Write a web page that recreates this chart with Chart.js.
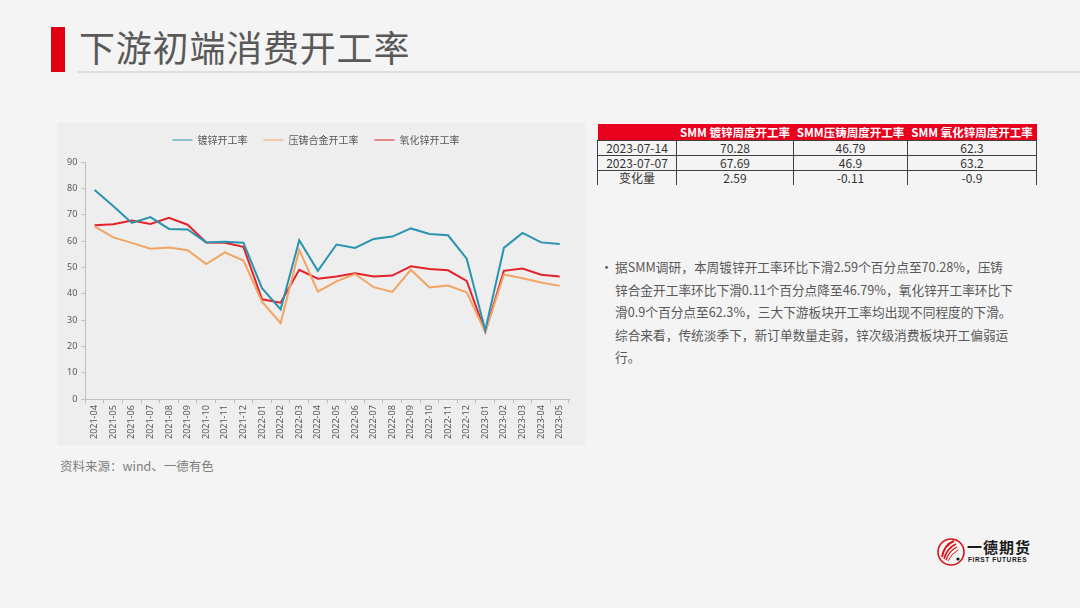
<!DOCTYPE html>
<html>
<head>
<meta charset="utf-8">
<script src="https://cdn.jsdelivr.net/npm/chart.js@4/dist/chart.umd.min.js"></script>
<style>
    html, body { margin: 0; padding: 0; }
    body {
        width: 1080px; height: 608px; position: relative; overflow: hidden;
        background: #f4f4f4;
        font-family: "Noto Sans CJK SC", "Noto Sans", sans-serif;
        color: #595959;
    }
    .title-bar { position: absolute; left: 51px; top: 27px; width: 14px; height: 45px; background: #e00012; }
    .title { position: absolute; left: 79px; top: 23px; font-size: 36px; line-height: 46px; color: #595959; letter-spacing: 0.8px; }
    .title-line { position: absolute; left: 78px; top: 71px; width: 1002px; height: 2px; background: #dedede; }
    .panel { position: absolute; left: 57px; top: 123px; width: 528px; height: 322px; background: #eeeeee; }
    .source { position: absolute; left: 60px; top: 456px; font-size: 12.5px; color: #7f7f7f; }
    table.t {
        position: absolute; left: 597px; top: 124px; border-collapse: collapse;
        font-size: 12px; color: #333; table-layout: fixed;
    }
    table.t th {
        background: #e8001c; color: #fff; font-weight: bold; height: 16px; padding: 0;
        font-size: 11.5px; white-space: nowrap;
    }
    table.t td { height: 14px; padding: 0; text-align: center; line-height: 14px; border: 1px solid #404040; }
    table.t tr:last-child td { border-bottom: none; }
    .text { position: absolute; left: 615px; top: 256px; font-size: 12.7px; line-height: 22.5px; color: #595959; white-space: nowrap; }
    .bullet { position: absolute; left: 600px; top: 256px; font-size: 13px; line-height: 22.5px; color: #595959; }
    .logo { position: absolute; left: 936px; top: 537px; }
    .logo-cn { position: absolute; left: 967px; top: 536px; font-size: 15px; font-weight: bold; color: #1a1a1a; letter-spacing: 1px; white-space: nowrap; }
    .logo-en { position: absolute; left: 968px; top: 556px; font-size: 6.5px; font-weight: bold; color: #1a1a1a; letter-spacing: 0.6px; white-space: nowrap; font-family: "Liberation Sans", sans-serif; }
</style>
</head>
<body>
<div class="title-bar"></div>
<div class="title">下游初端消费开工率</div>
<div class="title-line"></div>

<div class="panel"><canvas id="chart-rate" width="528" height="322"></canvas></div>
<div class="source">资料来源：wind、一德有色</div>

<table class="t">
    <colgroup><col style="width:79px"><col style="width:117px"><col style="width:114px"><col style="width:129px"></colgroup>
    <tr><th></th><th>SMM 镀锌周度开工率</th><th>SMM压铸周度开工率</th><th>SMM 氧化锌周度开工率</th></tr>
    <tr><td>2023-07-14</td><td>70.28</td><td>46.79</td><td>62.3</td></tr>
    <tr><td>2023-07-07</td><td>67.69</td><td>46.9</td><td>63.2</td></tr>
    <tr><td>变化量</td><td>2.59</td><td>-0.11</td><td>-0.9</td></tr>
</table>

<div class="bullet">•</div>
<div class="text">据SMM调研，本周镀锌开工率环比下滑2.59个百分点至70.28%，压铸<br>锌合金开工率环比下滑0.11个百分点降至46.79%，氧化锌开工率环比下<br>滑0.9个百分点至62.3%，三大下游板块开工率均出现不同程度的下滑。<br>综合来看，传统淡季下，新订单数量走弱，锌次级消费板块开工偏弱运<br>行。</div>

<svg class="logo" width="30" height="30" viewBox="0 0 30 30">
    <circle cx="15" cy="15" r="13" fill="none" stroke="#d7131b" stroke-width="1.6"/>
    <path d="M6 20 Q8 8 18 4" stroke="#d7131b" stroke-width="2" fill="none"/>
    <path d="M8 22 Q11 11 20 7" stroke="#d7131b" stroke-width="1.6" fill="none"/>
    <path d="M10 23 Q13 14 21 10" stroke="#d7131b" stroke-width="1.3" fill="none"/>
    <path d="M12 24 Q15 17 22 13" stroke="#d7131b" stroke-width="1" fill="none"/>
    <circle cx="22" cy="22" r="1.6" fill="#1a1a1a"/>
</svg>
<div class="logo-cn">一德期货</div>
<div class="logo-en">FIRST FUTURES</div>

<script>
(function () {
    // ===== 데이터 =====
    const months = [
        '2021-04', '2021-05', '2021-06', '2021-07', '2021-08', '2021-09', '2021-10', '2021-11', '2021-12',
        '2022-01', '2022-02', '2022-03', '2022-04', '2022-05', '2022-06', '2022-07', '2022-08', '2022-09',
        '2022-10', '2022-11', '2022-12', '2023-01', '2023-02', '2023-03', '2023-04', '2023-05'
    ];
    const galvanizing = [79.4, 73.3, 66.9, 69.1, 64.6, 64.4, 59.5, 59.7, 59.4, 42.1, 34.1, 60.3, 48.7,
        58.7, 57.4, 60.8, 61.7, 64.8, 62.7, 62.2, 53.3, 26.2, 57.4, 63.1, 59.5, 58.9];
    const dieCasting = [65.6, 61.4, 59.3, 57.1, 57.6, 56.5, 51.3, 55.7, 52.6, 37.0, 28.9, 56.7, 40.8,
        44.7, 47.5, 42.5, 40.7, 49.1, 42.4, 43.1, 40.6, 25.5, 47.3, 45.9, 44.3, 43.0];
    const zincOxide = [66.0, 66.4, 67.8, 66.5, 68.8, 66.2, 59.5, 59.4, 57.8, 37.9, 36.6, 49.1, 45.7,
        46.6, 47.8, 46.6, 46.9, 50.4, 49.4, 48.9, 44.9, 25.6, 48.7, 49.6, 47.2, 46.6];
    const yTicks = [0, 10, 20, 30, 40, 50, 60, 70, 80, 90];

    const axisGray = '#bfbfbf';
    const tickFont = { family: '"Noto Sans", "Noto Sans CJK SC", sans-serif', size: 9 };

    // 범례 아래 여백
    const legendGap = {
        id: 'legendGap',
        beforeInit: function (chart) {
            const origFit = chart.legend.fit;
            chart.legend.fit = function () {
                origFit.bind(chart.legend)();
                this.height += 7;
            };
        }
    };

    new Chart(document.getElementById('chart-rate'), {
        type: 'line',
        data: {
            labels: months,
            datasets: [
                { label: '镀锌开工率', data: galvanizing, borderColor: '#2a93b0', backgroundColor: '#2a93b0' },
                { label: '压铸合金开工率', data: dieCasting, borderColor: '#f2a462', backgroundColor: '#f2a462' },
                { label: '氧化锌开工率', data: zincOxide, borderColor: '#e3222b', backgroundColor: '#e3222b' }
            ]
        },
        plugins: [legendGap],
        options: {
            responsive: false,
            animation: false,
            layout: { padding: { left: 6, right: 16, top: -4, bottom: 4 } },
            elements: {
                line: { borderWidth: 2, tension: 0 },
                point: { radius: 0 }
            },
            plugins: {
                legend: {
                    position: 'top',
                    labels: {
                        usePointStyle: true,
                        pointStyle: 'line',
                        pointStyleWidth: 20,
                        boxHeight: 10,
                        padding: 16,
                        color: '#595959',
                        font: { family: '"Noto Sans CJK SC", sans-serif', size: 10 }
                    }
                },
                tooltip: { enabled: false }
            },
            scales: {
                x: {
                    offset: true,
                    grid: { display: true, offset: true, drawOnChartArea: false, drawTicks: true, tickLength: 4, color: axisGray },
                    border: { display: true, color: axisGray },
                    ticks: {
                        autoSkip: false, minRotation: 90, maxRotation: 90,
                        color: '#595959', font: tickFont, padding: 2
                    }
                },
                y: {
                    min: 0, max: 90,
                    afterBuildTicks: function (axis) { axis.ticks = yTicks.map(function (v) { return { value: v }; }); },
                    grid: { display: true, drawOnChartArea: false, drawTicks: true, tickLength: 4, color: axisGray },
                    border: { display: true, color: axisGray },
                    ticks: { color: '#595959', font: tickFont, padding: 4 }
                }
            }
        }
    });
})();
</script>
</body>
</html>
